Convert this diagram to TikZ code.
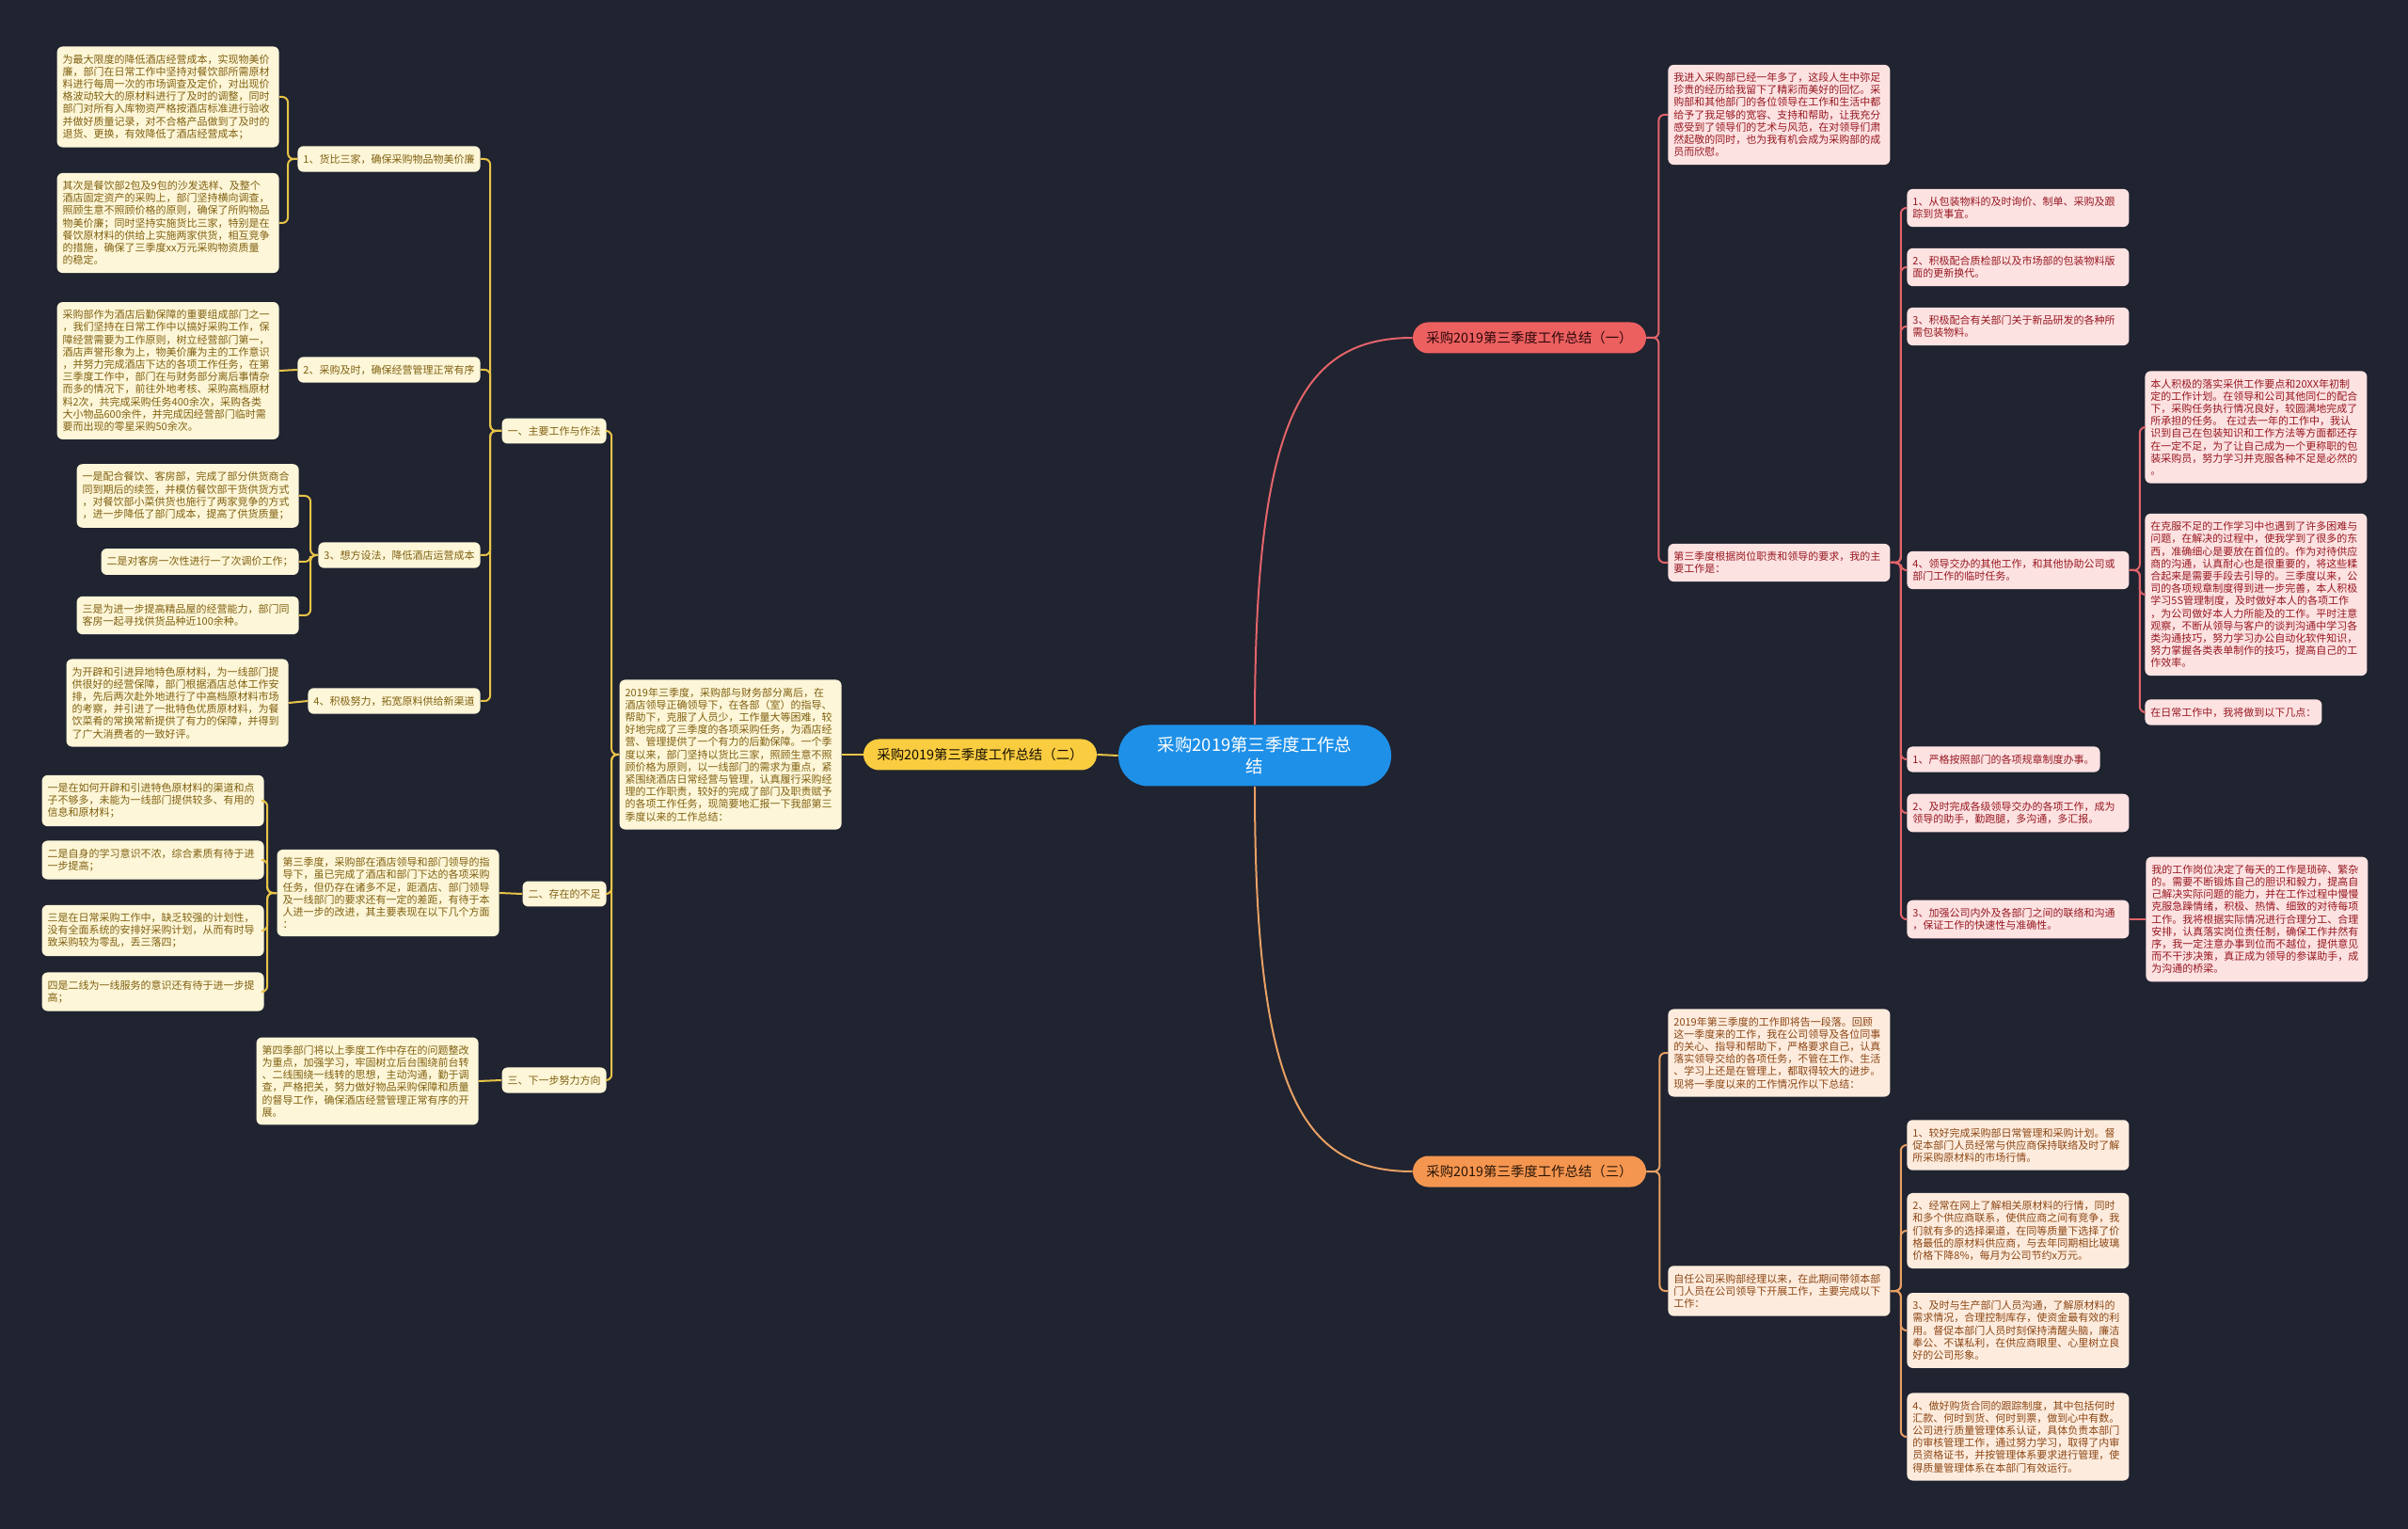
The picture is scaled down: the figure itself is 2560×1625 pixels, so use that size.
\documentclass[tikz,border=0pt]{standalone}
\usepackage{fontspec}
\setmainfont{Noto Sans CJK SC}
\definecolor{bg}{RGB}{32,35,48}
\definecolor{centerC}{RGB}{30,144,232}
\definecolor{yelB}{RGB}{250,204,64}
\definecolor{yelL}{RGB}{232,196,72}
\definecolor{yelF}{RGB}{253,246,216}
\definecolor{yelT}{RGB}{128,96,16}
\definecolor{redB}{RGB}{236,96,96}
\definecolor{redL}{RGB}{226,100,106}
\definecolor{redF}{RGB}{253,226,226}
\definecolor{redT}{RGB}{150,24,32}
\definecolor{orgB}{RGB}{245,150,80}
\definecolor{orgL}{RGB}{232,160,100}
\definecolor{orgF}{RGB}{253,236,222}
\definecolor{orgT}{RGB}{140,70,20}
\tikzset{
  leaf/.style={inner xsep=3pt, inner ysep=4.2pt, rounded corners=3pt, align=left,
    font=\fontsize{5.5}{6.6}\selectfont},
  tw/.style={text width=112pt},
  leafY/.style={leaf, fill=yelF, text=yelT},
  leafR/.style={leaf, fill=redF, text=redT},
  leafO/.style={leaf, fill=orgF, text=orgT},
  bigB/.style={minimum width=124pt, minimum height=16.5pt, rounded corners=8.25pt,
    align=center, inner xsep=6pt, font=\fontsize{7.2}{8.6}\selectfont},
  lnk/.style={line width=1pt, rounded corners=3pt},
  lY/.style={lnk, draw=yelL},
  lR/.style={lnk, draw=redL},
  lO/.style={lnk, draw=orgL},
}
\begin{document}
\begin{tikzpicture}[x=0.5pt,y=-0.5pt]
\fill[bg] (0,0) rectangle (2560,1625);
\useasboundingbox (0,0) rectangle (2560,1625);

% center
\node[fill=centerC, text=white, minimum width=145pt, minimum height=32.5pt,
  rounded corners=16pt, align=center, font=\fontsize{9.2}{11.2}\selectfont] (C) at (1334,803)
  {采购2019第三季度工作总\\结};

% branches
\node[bigB, fill=yelB, text=black!85!yelT] (B2) at (1042,802) {采购2019第三季度工作总结（二）};
\node[bigB, fill=redB, text=black!70!redT] (B1) at (1626,359) {采购2019第三季度工作总结（一）};
\node[bigB, fill=orgB, text=black!70!orgT] (B3) at (1626,1245) {采购2019第三季度工作总结（三）};

% ---------- branch 2 (left) ----------
\node[leafY, tw, anchor=east] (I2) at (895,802) {2019年三季度，采购部与财务部分离后，在\\酒店领导正确领导下，在各部（室）的指导、\\帮助下，克服了人员少，工作量大等困难，较\\好地完成了三季度的各项采购任务，为酒店经\\营、管理提供了一个有力的后勤保障。一个季\\度以来，部门坚持以货比三家，照顾生意不照\\顾价格为原则，以一线部门的需求为重点，紧\\紧围绕酒店日常经营与管理，认真履行采购经\\理的工作职责，较好的完成了部门及职责赋予\\的各项工作任务，现简要地汇报一下我部第三\\季度以来的工作总结：};

\node[leafY, anchor=east] (P1) at (645,458) {一、主要工作与作法};
\node[leafY, anchor=east] (P2) at (645,950) {二、存在的不足};
\node[leafY, anchor=east] (P3) at (645,1148) {三、下一步努力方向};

\node[leafY, anchor=east] (S1) at (511,169) {1、货比三家，确保采购物品物美价廉};
\node[leafY, anchor=east] (S2) at (511,393) {2、采购及时，确保经营管理正常有序};
\node[leafY, anchor=east] (S3) at (511,590) {3、想方设法，降低酒店运营成本};
\node[leafY, anchor=east] (S4) at (511,745) {4、积极努力，拓宽原料供给新渠道};

\node[leafY, tw, anchor=east] (A1) at (297,103) {为最大限度的降低酒店经营成本，实现物美价\\廉，部门在日常工作中坚持对餐饮部所需原材\\料进行每周一次的市场调查及定价，对出现价\\格波动较大的原材料进行了及时的调整，同时\\部门对所有入库物资严格按酒店标准进行验收\\并做好质量记录，对不合格产品做到了及时的\\退货、更换，有效降低了酒店经营成本；};
\node[leafY, tw, anchor=east] (A2) at (297,237) {其次是餐饮部2包及9包的沙发选样、及整个\\酒店固定资产的采购上，部门坚持横向调查，\\照顾生意不照顾价格的原则，确保了所购物品\\物美价廉；同时坚持实施货比三家，特别是在\\餐饮原材料的供给上实施两家供货，相互竞争\\的措施，确保了三季度xx万元采购物资质量\\的稳定。};
\node[leafY, tw, anchor=east] (Bx) at (297,394) {采购部作为酒店后勤保障的重要组成部门之一\\，我们坚持在日常工作中以搞好采购工作，保\\障经营需要为工作原则，树立经营部门第一，\\酒店声誉形象为上，物美价廉为主的工作意识\\，并努力完成酒店下达的各项工作任务，在第\\三季度工作中，部门在与财务部分离后事情杂\\而多的情况下，前往外地考核、采购高档原材\\料2次，共完成采购任务400余次，采购各类\\大小物品600余件，并完成因经营部门临时需\\要而出现的零星采购50余次。};
\node[leafY, tw, anchor=east] (C1) at (318,527) {一是配合餐饮、客房部，完成了部分供货商合\\同到期后的续签，并模仿餐饮部干货供货方式\\，对餐饮部小菜供货也施行了两家竞争的方式\\，进一步降低了部门成本，提高了供货质量；};
\node[leafY, anchor=east] (C2) at (318,597) {二是对客房一次性进行一了次调价工作；};
\node[leafY, tw, anchor=east] (C3) at (318,654) {三是为进一步提高精品屋的经营能力，部门同\\客房一起寻找供货品种近100余种。};
\node[leafY, tw, anchor=east] (D1) at (307,747) {为开辟和引进异地特色原材料，为一线部门提\\供很好的经营保障，部门根据酒店总体工作安\\排，先后两次赴外地进行了中高档原材料市场\\的考察，并引进了一批特色优质原材料，为餐\\饮菜肴的常换常新提供了有力的保障，并得到\\了广大消费者的一致好评。};

\node[leafY, tw, anchor=east] (E0) at (531,949) {第三季度，采购部在酒店领导和部门领导的指\\导下，虽已完成了酒店和部门下达的各项采购\\任务，但仍存在诸多不足，距酒店、部门领导\\及一线部门的要求还有一定的差距，有待于本\\人进一步的改进，其主要表现在以下几个方面\\：};
\node[leafY, tw, anchor=east] (E1) at (281,851) {一是在如何开辟和引进特色原材料的渠道和点\\子不够多，未能为一线部门提供较多、有用的\\信息和原材料；};
\node[leafY, tw, anchor=east] (E2) at (281,914) {二是自身的学习意识不浓，综合素质有待于进\\一步提高；};
\node[leafY, tw, anchor=east] (E3) at (281,989) {三是在日常采购工作中，缺乏较强的计划性，\\没有全面系统的安排好采购计划，从而有时导\\致采购较为零乱，丢三落四；};
\node[leafY, tw, anchor=east] (E4) at (281,1054) {四是二线为一线服务的意识还有待于进一步提\\高；};
\node[leafY, tw, anchor=east] (F1) at (509,1149) {第四季部门将以上季度工作中存在的问题整改\\为重点，加强学习，牢固树立后台围绕前台转\\、二线围绕一线转的思想，主动沟通，勤于调\\查，严格把关，努力做好物品采购保障和质量\\的督导工作，确保酒店经营管理正常有序的开\\展。};

% ---------- branch 1 (right top) ----------
\node[leafR, tw, anchor=west] (R0) at (1773,122) {我进入采购部已经一年多了，这段人生中弥足\\珍贵的经历给我留下了精彩而美好的回忆。采\\购部和其他部门的各位领导在工作和生活中都\\给予了我足够的宽容、支持和帮助，让我充分\\感受到了领导们的艺术与风范，在对领导们肃\\然起敬的同时，也为我有机会成为采购部的成\\员而欣慰。};
\node[leafR, tw, anchor=west] (R1) at (1773,598) {第三季度根据岗位职责和领导的要求，我的主\\要工作是：};
\node[leafR, tw, anchor=west] (R11) at (2027,221) {1、从包装物料的及时询价、制单、采购及跟\\踪到货事宜。};
\node[leafR, tw, anchor=west] (R12) at (2027,284) {2、积极配合质检部以及市场部的包装物料版\\面的更新换代。};
\node[leafR, tw, anchor=west] (R13) at (2027,347) {3、积极配合有关部门关于新品研发的各种所\\需包装物料。};
\node[leafR, tw, anchor=west] (R14) at (2027,606) {4、领导交办的其他工作，和其他协助公司或\\部门工作的临时任务。};
\node[leafR, anchor=west] (R15) at (2027,807) {1、严格按照部门的各项规章制度办事。};
\node[leafR, tw, anchor=west] (R16) at (2027,864) {2、及时完成各级领导交办的各项工作，成为\\领导的助手，勤跑腿，多沟通，多汇报。};
\node[leafR, tw, anchor=west] (R17) at (2027,977) {3、加强公司内外及各部门之间的联络和沟通\\，保证工作的快速性与准确性。};
\node[leafR, tw, anchor=west] (R141) at (2280,454) {本人积极的落实采供工作要点和20XX年初制\\定的工作计划。在领导和公司其他同仁的配合\\下，采购任务执行情况良好，较圆满地完成了\\所承担的任务。~在过去一年的工作中，我认\\识到自己在包装知识和工作方法等方面都还存\\在一定不足，为了让自己成为一个更称职的包\\装采购员，努力学习并克服各种不足是必然的\\。};
\node[leafR, tw, anchor=west] (R142) at (2280,632) {在克服不足的工作学习中也遇到了许多困难与\\问题，在解决的过程中，使我学到了很多的东\\西，准确细心是要放在首位的。作为对待供应\\商的沟通，认真耐心也是很重要的，将这些糅\\合起来是需要手段去引导的。三季度以来，公\\司的各项规章制度得到进一步完善，本人积极\\学习5S管理制度，及时做好本人的各项工作\\，为公司做好本人力所能及的工作。平时注意\\观察，不断从领导与客户的谈判沟通中学习各\\类沟通技巧，努力学习办公自动化软件知识，\\努力掌握各类表单制作的技巧，提高自己的工\\作效率。};
\node[leafR, anchor=west] (R143) at (2280,757) {在日常工作中，我将做到以下几点：};
\node[leafR, tw, anchor=west] (R171) at (2281,977) {我的工作岗位决定了每天的工作是琐碎、繁杂\\的。需要不断锻炼自己的胆识和毅力，提高自\\己解决实际问题的能力，并在工作过程中慢慢\\克服急躁情绪，积极、热情、细致的对待每项\\工作。我将根据实际情况进行合理分工、合理\\安排，认真落实岗位责任制，确保工作井然有\\序，我一定注意办事到位而不越位，提供意见\\而不干涉决策，真正成为领导的参谋助手，成\\为沟通的桥梁。};

% ---------- branch 3 (right bottom) ----------
\node[leafO, tw, anchor=west] (T0) at (1773,1119) {2019年第三季度的工作即将告一段落。回顾\\这一季度来的工作，我在公司领导及各位同事\\的关心、指导和帮助下，严格要求自己，认真\\落实领导交给的各项任务，不管在工作、生活\\、学习上还是在管理上，都取得较大的进步。\\现将一季度以来的工作情况作以下总结：};
\node[leafO, tw, anchor=west] (T1) at (1773,1372) {自任公司采购部经理以来，在此期间带领本部\\门人员在公司领导下开展工作，主要完成以下\\工作：};
\node[leafO, tw, anchor=west] (T11) at (2027,1217) {1、较好完成采购部日常管理和采购计划。督\\促本部门人员经常与供应商保持联络及时了解\\所采购原材料的市场行情。};
\node[leafO, tw, anchor=west] (T12) at (2027,1308) {2、经常在网上了解相关原材料的行情，同时\\和多个供应商联系，使供应商之间有竞争，我\\们就有多的选择渠道，在同等质量下选择了价\\格最低的原材料供应商，与去年同期相比玻璃\\价格下降8\%，每月为公司节约x万元。};
\node[leafO, tw, anchor=west] (T13) at (2027,1414) {3、及时与生产部门人员沟通，了解原材料的\\需求情况，合理控制库存，使资金最有效的利\\用。督促本部门人员时刻保持清醒头脑，廉洁\\奉公、不谋私利，在供应商眼里、心里树立良\\好的公司形象。};
\node[leafO, tw, anchor=west] (T14) at (2027,1527) {4、做好购货合同的跟踪制度，其中包括何时\\汇款、何时到货、何时到票，做到心中有数。\\公司进行质量管理体系认证，具体负责本部门\\的审核管理工作，通过努力学习，取得了内审\\员资格证书，并按管理体系要求进行管理，使\\得质量管理体系在本部门有效运行。};

% ---------- connectors ----------
\draw[lY] (C.west) -- (B2.east);
\draw[lR] (C.north) .. controls +(0,-320) and +(-120,0) .. (B1.west);
\draw[lO] (C.south) .. controls +(0,320) and +(-120,0) .. (B3.west);

\draw[lY] (B2.west) -- (I2.east);
\foreach \n in {P1,P2,P3} \draw[lY] (I2.west) -- ++(-8,0) |- (\n.east);
\foreach \n in {S1,S2,S3,S4} \draw[lY] (P1.west) -- ++(-12,0) |- (\n.east);
\foreach \n in {A1,A2} \draw[lY] (S1.west) -- ++(-10,0) |- (\n.east);
\draw[lY] (S2.west) -- (Bx.east);
\foreach \n in {C1,C2,C3} \draw[lY] (S3.west) -- ++(-8,0) |- (\n.east);
\draw[lY] (S4.west) -- (D1.east);
\draw[lY] (P2.west) -- (E0.east);
\foreach \n in {E1,E2,E3,E4} \draw[lY] (E0.west) -- ++(-10,0) |- (\n.east);
\draw[lY] (P3.west) -- (F1.east);

\foreach \n in {R0,R1} \draw[lR] (B1.east) -- ++(13,0) |- (\n.west);
\foreach \n in {R11,R12,R13,R14,R15,R16,R17} \draw[lR] (R1.east) -- ++(11,0) |- (\n.west);
\foreach \n in {R141,R142,R143} \draw[lR] (R14.east) -- ++(11,0) |- (\n.west);
\draw[lR] (R17.east) -- (R171.west);

\foreach \n in {T0,T1} \draw[lO] (B3.east) -- ++(14,0) |- (\n.west);
\foreach \n in {T11,T12,T13,T14} \draw[lO] (T1.east) -- ++(11,0) |- (\n.west);
\end{tikzpicture}
\end{document}
